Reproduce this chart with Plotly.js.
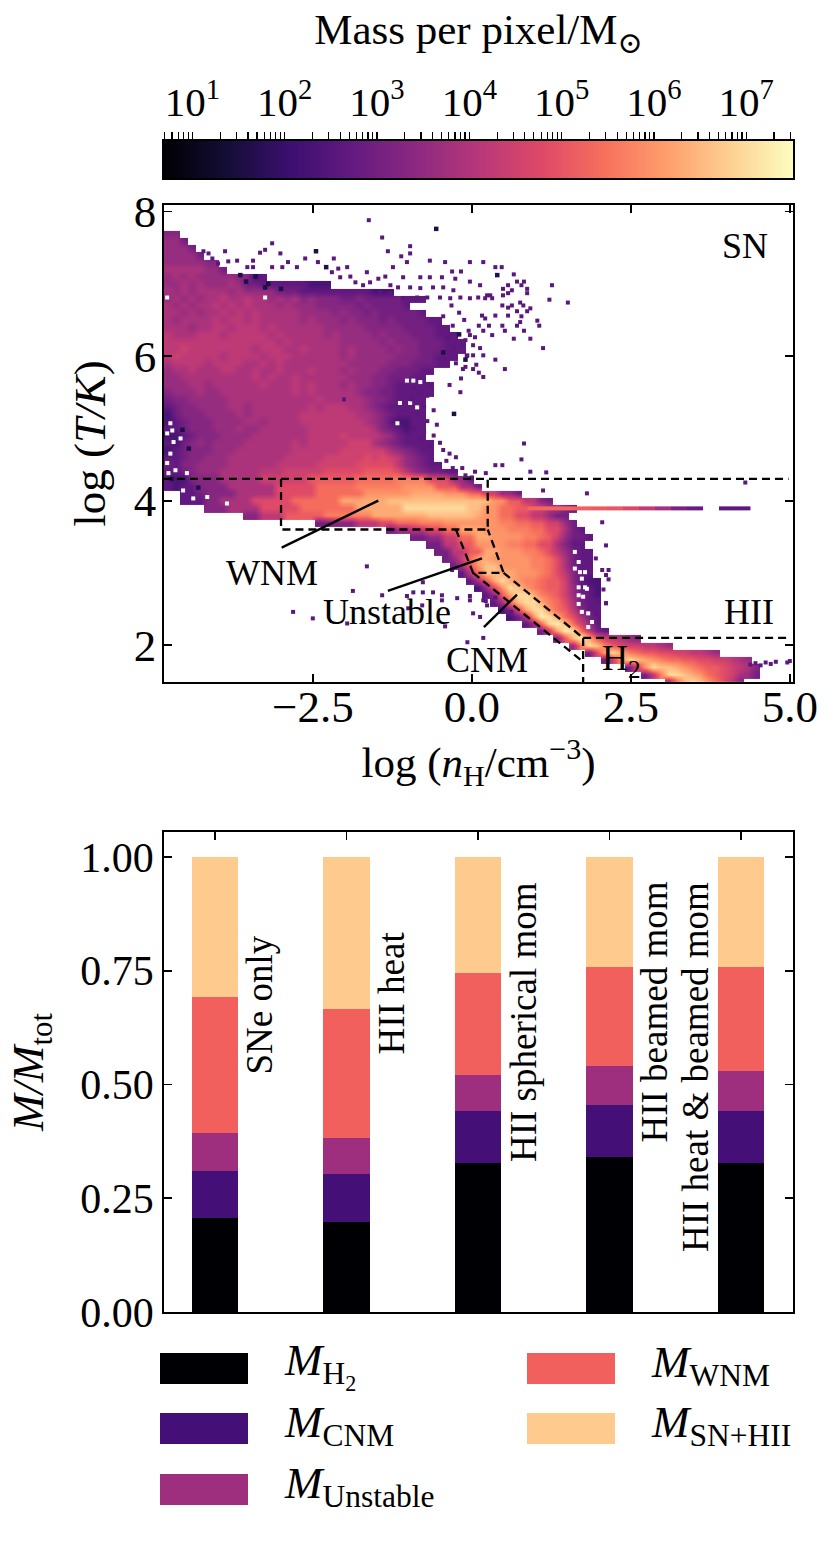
<!DOCTYPE html>
<html><head><meta charset="utf-8">
<script src="https://cdn.plot.ly/plotly-3.0.1.min.js"></script>
<style>html,body{margin:0;padding:0;background:#fff}</style></head>
<body><div id="chart" style="width:831px;height:1547px"></div>
<script>
// ---- bar panel data ----
const runs = ["SNe only","HII heat","HII spherical mom","HII beamed mom","HII heat & beamed mom"];
const massH2 = [0.206,0.197,0.327,0.340,0.327];
const massCNM = [0.105,0.106,0.114,0.114,0.114];
const massUnstable = [0.082,0.079,0.081,0.086,0.088];
const massWNM = [0.299,0.284,0.223,0.218,0.229];
const massHot = [0.308,0.334,0.255,0.242,0.242];
const barColors = ["#000004","#440f76","#9e2f7f","#f1605d","#feca8d"];
const barNames = ["<i>M</i><sub>H<sub>2</sub></sub>","<i>M</i><sub>CNM</sub>","<i>M</i><sub>Unstable</sub>","<i>M</i><sub>WNM</sub>","<i>M</i><sub>SN+HII</sub>"];

// ---- phase diagram data: rows from log T = 8.0 downward in 0.1 steps
// token "x3" = level x for 3 cells, "~abc" = one cell per character
const levelChars = "0123456789abcdefgh";
const levelValues = [1.8,2.3,2.7,3.0,3.3,3.6,3.9,4.2,4.5,4.8,5.1,5.4,5.7,6.0,6.3,6.6,7.0,7.3];
const phaseRows = [
"","","",
"42",
"52 31",
"53 31",
"54 31",
"55 42",
"65 52 31",
"~565655 53 42 11 21",
"~5565655565 32 23 23 13",
"~6565666656 54 33 23 23 23 13",
"~565656676676656564544433433333 23",
"~6565667676766656555444443433332",
"~665656676767666665555454434333332",
"~65666676776766666565554544434333322",
"~666566776777676666665555544444333322",
"~7666777677777676666656555545444333222",
"~77777777777777676666665555545444333222",
"~77877777777677766766665655554544333222",
"~7877777677776777666666565555544433222",
"~677776777766767666666665555544433322",
"~5667666776676676667666565554433322",
"~556666666667676676666665554433322",
"~55566566666676667676665655443222 22",
"~4555655666666666767666665443322 23",
"~3445555566666666666766666544322 22",
"~2344555566566666667677766543222 22",
"~134445555656666667777777665432 23",
"~1234445555665666677777777654211 22",
"~2234445556556666667777777764321 22",
"~1123444555566666667777877776532 22",
"~213454555566666676777778886543222 21",
"~1234445556666666777777888888654322",
"~2234455566666667777788888989875432",
"~32445555666666777778888899999754322",
"~2234555666667778888899999aaaa97543322",
"21 12 44 65 86 a6 b5 c4 93 52 21",
"21 11 22 44 66 95 b5 c6 d4 a3 62 31",
".2 21 21 31 44 65 95 b6 d6 e4 d3 b2 82 52 31",
".2 21 21 21 42 64 95 b6 e6 f5 f8 d2 a2 72 41 31",
".5 43 64 95 b7 e6 g4 g4 f2 d2 b2 a2 82 62 41 31",
".10 42 73 a5 c6 e7 f6 e1 d2 b2 92 72 51 32",
".19 32 43 73 92 b3 c3 d5 d2 c2 b2 a2 82 51 31",
".28 31 52 72 92 b2 e3 d3 c3 b2 92 61 31 21",
".31 32 52 82 b2 e2 d4 c2 b1 a1 81 51 32 21",
".33 32 72 a2 d2 d2 c2 b2 92 61 41 21 21",
".34 32 72 a2 e2 d3 c2 b1 91 71 51 31 21 21",
".35 31 51 81 b1 e2 d5 c2 b1 91 61 31 22",
".36 31 61 a1 d1 f2 d4 c2 b1 91 61 31 21 21",
".37 21 71 b1 f2 e2 d3 c1 b1 91 71 41 21 21",
".38 21 61 a1 e1 g1 e1 d1 c2 b1 a2 81 41 21 12",
".39 11 51 91 d1 g1 f1 d1 c1 b1 a2 81 51 22 11",
".40 21 51 a1 e1 g1 g1 e1 c1 b1 a1 81 51 31 21 11",
".41 21 61 b1 f1 g1 g1 e1 c1 b1 91 61 31 22",
".42 11 41 91 e1 g1 g1 d1 b1 a1 71 41 22",
".43 11 31 71 d1 h1 g1 e1 b1 91 61 31 21",
".45 21 51 b1 g1 h1 f1 b1 81 51 21",
".47 31 81 e1 h1 g1 b1 71 31 21",
".49 41 a1 f1 h1 e1 a1 81 71 61 51 41",
".51 51 c1 g1 f1 c1 a1 91 81 81 71 71 61 51",
".53 31 91 e1 g1 e1 c1 b1 a1 a1 91 91 81 81 71 71 61 51",
".55 31 81 d1 g1 f1 e1 d1 c1 b2 a2 92 82 71 61 51",
".58 31 81 d1 g1 f1 f1 e1 d1 c1 b1 a2 91 81 71 61 41",
".60 31 71 c1 g2 f1 e1 d1 b1 a1 91 81 61 51 31",
".63 51 b1 f1 g1 f1 d1 b1 91 71 41"
];
// narrow streak at log T = 3.9
const streakX = [1.0,1.25,1.5,1.75,2.0,2.25,2.5,2.75,3.0,3.25,3.5,3.75,4.0,4.25];
const streakZ = [5.3,5.3,5.3,5.2,5.1,5.0,4.7,4.3,3.8,3.1,2.8,null,2.6,2.6];
// isolated cells
const strayX = [-1.62,-1.41,-0.97,-3.14,-3.88,-4.22,-4.14,-3.33,-3.01,-3.25,-1.32,-1.11,-0.97,-4.08,-3.69,-3.83,-3.99,-3.44,-2.62,-2.42,-2.17,-2.89,-2.98,-2.75,-3.14,-3.44,-3.53,-0.42,-1.02,-0.03,0.18,-1.24,-0.66,-1.65,-1.96,-2.1,-2.2,-0.31,-0.17,-1.36,-1.08,-0.81,-0.66,-0.47,-0.26,-1.91,-2.07,-1.47,-1.6,-1.28,-1.71,-1.83,-1.16,-1.44,-1.28,-0.97,-0.81,-0.61,-0.45,-0.29,-0.03,0.13,0.24,0.1,-0.03,-0.18,-0.34,-0.5,-0.7,-0.86,-1.08,0.37,0.47,0.66,0.82,0.71,0.57,0.78,1.26,0.87,0.63,0.49,0.87,0.49,0.57,0.29,0.21,0.32,1.22,1.51,0.76,0.81,0.48,0.57,0.63,0.92,0.71,0.87,0.57,0.37,0.78,0.16,0.21,1.03,1.06,0.48,0.71,0.76,0.27,0.11,0.82,0.52,0.32,0.18,0.66,0.92,1.12,0.05,-0.03,-0.1,0.02,0.13,-0.07,0.02,0.18,0.37,0.07,0.52,-0.14,0.02,0.11,0.18,-0.17,-0.32,-0.2,-0.45,-0.12,-0.3,-0.05,-0.22,-0.38,-0.15,-0.28,-0.08,-0.42,-0.25,-0.1,-0.35,-0.18,-2.01,-1.65,-1.87,-1.41,-1.02,-0.92,-0.77,-0.61,-0.47,-0.77,-0.31,-0.23,-0.03,0.18,-0.47,-0.78,-1.71,-1.96,-2.81,-2.5,-0.42,-0.07,0.18,0.62,0.82,0.78,1.17,0.22,0.37,0.48,0.92,1.12,1.81,2.05,2.11,1.95,2.05,2.15,2.11,2.15,2.07,1.99,2.11,2.11,1.95,0.02,-0.03,0.22,0.37,0.24,0.13,-1.0,-0.9,-0.8,-0.7,-0.65,-0.95,-0.75,-0.6,-0.85,-0.7,-0.55,-0.9,-0.75,-0.6,-0.8,-0.65,-0.45,-0.5,-0.35,-0.25,-0.4,-0.15,-0.3,-0.1,0.0,0.05,4.3,4.38,4.46,4.54,4.62,4.7,4.78,4.96,5.0];
const strayY = [7.88,7.64,7.52,7.56,7.45,7.45,7.42,7.43,7.42,7.47,7.45,7.38,7.42,7.35,7.32,7.31,7.28,7.32,7.35,7.3,7.35,7.3,7.23,7.23,7.23,7.23,7.23,7.3,7.3,7.3,7.3,7.23,7.32,7.16,7.23,7.21,7.16,7.17,7.17,7.1,7.09,7.09,7.09,7.09,7.07,7.1,7.09,7.07,7.02,6.98,6.98,7.02,6.95,6.88,6.87,6.95,6.94,6.95,6.95,6.91,7.03,6.98,6.84,6.81,6.8,6.81,6.8,6.81,6.81,6.81,6.8,7.23,7.23,7.13,7.03,7.03,6.98,6.98,6.98,6.93,6.91,6.93,6.87,6.84,6.87,6.84,6.8,6.8,6.78,6.74,6.74,6.7,6.7,6.67,6.7,6.66,6.62,6.62,6.56,6.56,6.55,6.56,6.52,6.49,6.42,6.42,6.42,6.47,6.42,6.42,6.35,6.35,6.29,6.35,6.24,6.24,6.11,6.26,6.29,6.22,6.15,6.11,6.01,6.01,6.01,5.95,5.88,5.82,5.82,5.82,5.77,5.71,5.69,6.7,6.6,6.55,6.5,6.42,6.35,6.3,6.25,6.15,6.1,6.0,5.95,5.9,5.85,5.6,5.5,5.4,3.09,2.75,2.69,2.68,2.73,2.73,2.73,2.69,2.87,3.04,2.65,2.62,2.62,2.62,2.55,2.32,2.3,2.46,2.37,2.26,2.04,2.1,2.46,4.79,4.57,4.39,4.38,4.49,4.49,4.4,4.14,4.1,3.7,3.38,3.2,3.04,3.04,2.97,2.91,2.77,2.61,2.58,2.58,2.44,2.44,2.68,2.61,2.66,2.55,2.39,2.51,5.55,5.5,5.45,5.6,5.4,5.3,5.25,5.2,5.1,5.05,5.0,4.95,4.9,4.85,4.75,4.7,4.8,4.65,4.6,4.55,4.45,4.45,4.35,4.32,4.4,4.25,1.73,1.75,1.72,1.76,1.74,1.77,1.76,1.78,1.78];
const darkX = [-0.56,-2.45,-3.64,-3.4,-3.55,-3.2,-3.25,-3.0,0.4,-2.29,-4.55,-4.45,-4.3,-4.72,-0.45,-0.2,-0.1,-0.28];
const darkY = [7.76,7.45,7.12,7.1,7.03,7.0,6.95,6.93,7.12,7.23,4.98,4.72,4.18,4.3,6.05,6.3,5.95,5.2];
// empty cells inside the filled area
const holeX = [1.62,1.68,1.62,1.78,1.70,1.73,1.68,1.78,1.68,1.75,1.81,1.68,1.73,1.83,1.89,1.83,-4.74,-4.79,-4.71,-4.58,-4.69,-4.74,-4.79,-4.66,-4.48,-4.77,-4.54,-4.16,-4.38,-3.85,-1.02,-0.92,-0.81,-1.13,-0.97,-0.86,-1.17,-3.25,-4.79];
const holeY = [3.29,3.15,3.06,3.01,3.01,2.92,2.80,2.80,2.69,2.67,2.78,2.57,2.46,2.44,2.32,2.25,5.07,4.93,4.97,4.86,4.81,4.65,4.52,4.42,4.38,4.38,4.14,4.05,4.03,3.96,5.66,5.66,5.64,5.35,5.35,5.29,5.07,6.81,6.81];

// ---- region outlines (log n, log T) ----
const hotLineX = [-4.84,4.98], hotLineY = [4.3,4.3];
const wnmBoxX = [-3.0,-3.0,0.25,0.25], wnmBoxY = [4.3,3.6,3.6,4.3];
const unstableX = [-0.25,0.02,0.5,0.25], unstableY = [3.6,3.0,3.0,3.6];
const cnmLowX = [0.02,1.72], cnmLowY = [3.0,1.79];
const cnmUpX = [0.5,1.75], cnmUpY = [3.0,2.1];
const h2VertX = [1.75,1.75], h2VertY = [2.1,1.49];
const hiiLineX = [1.75,4.98], hiiLineY = [2.1,2.1];
const pointerWNM = [[-2.99,-1.47],[3.35,4.0]];
const pointerUnstable = [[-1.32,0.16],[2.75,3.2]];
const pointerCNM = [[0.19,0.71],[2.25,2.7]];

// ---- colour bar ----
const cbarLevels = [0.692,1,1.5,2,2.5,3,3.5,4,4.5,5,5.5,6,6.5,7,7.507];
const cbarTicks = [1,2,3,4,5,6,7];
const cbarTickText = ["10<sup>1</sup>","10<sup>2</sup>","10<sup>3</sup>","10<sup>4</sup>","10<sup>5</sup>","10<sup>6</sup>","10<sup>7</sup>"];
const magma = [[0,"#000004"],[0.1,"#140e36"],[0.2,"#3b0f70"],[0.3,"#641a80"],[0.4,"#8c2981"],[0.5,"#b73779"],[0.6,"#de4968"],[0.7,"#f7705c"],[0.8,"#fe9f6d"],[0.9,"#fecf92"],[1,"#fcfdbf"]];
const zMin = 0.692, zMax = 7.507;

const W = 831, H = 1547;
const FONT = "Liberation Serif, DejaVu Serif, serif";
const px = v => v / W, py = v => 1 - v / H;

// decode the rows
const charValue = {};
levelChars.split("").forEach((c,i)=>{charValue[c]=levelValues[i];});
const phaseZ = phaseRows.map(r=>{
  const out = new Array(79).fill(null);
  let c = 0;
  r.split(" ").filter(Boolean).forEach(tok=>{
    if(tok[0]==="~"){ tok.slice(1).split("").forEach(ch=>{ if(c<79) out[c++]=charValue[ch]; }); return; }
    const n = parseInt(tok.slice(1),10), v = tok[0]==="." ? null : charValue[tok[0]];
    for(let i=0;i<n && c<79;i++,c++) out[c]=v;
  });
  return out;
}).reverse();

const dashLine = (x,y)=>({x,y,xaxis:"x",yaxis:"y",mode:"lines",hoverinfo:"skip",showlegend:false,line:{color:"#000",width:2.3,dash:"8px,5px"}});
const solidLine = p=>({x:p[0],y:p[1],xaxis:"x",yaxis:"y",mode:"lines",hoverinfo:"skip",showlegend:false,line:{color:"#000",width:2.4}});
const cellMarks = (x,y,color,size)=>({type:"scatter",mode:"markers",x,y,xaxis:"x",yaxis:"y",hoverinfo:"skip",showlegend:false,marker:{symbol:"square",size,color,line:{width:0}}});

const traces = [
 {type:"heatmap",z:[cbarLevels,cbarLevels],x:cbarLevels,y:[0,1],xaxis:"x3",yaxis:"y3",zsmooth:"best",colorscale:magma,zmin:zMin,zmax:zMax,showscale:false,hoverinfo:"skip"},
 {type:"heatmap",z:phaseZ,x0:-4.78,dx:0.125,y0:1.5,dy:0.1,xaxis:"x",yaxis:"y",zsmooth:"best",colorscale:magma,zmin:zMin,zmax:zMax,showscale:false,hoverinfo:"skip"},
 {type:"heatmap",z:[streakZ],x:streakX,y0:3.895,dy:0.05,xaxis:"x",yaxis:"y",colorscale:magma,zmin:zMin,zmax:zMax,showscale:false,hoverinfo:"skip"},
 cellMarks(holeX,holeY,"#fff",4),
 cellMarks(strayX,strayY,"#5c177d",4),
 cellMarks(darkX,darkY,"#1d1147",4.5),
 dashLine(hotLineX,hotLineY),dashLine(wnmBoxX,wnmBoxY),dashLine(unstableX,unstableY),dashLine(cnmLowX,cnmLowY),dashLine(cnmUpX,cnmUpY),dashLine(h2VertX,h2VertY),dashLine(hiiLineX,hiiLineY),
 solidLine(pointerWNM),solidLine(pointerUnstable),solidLine(pointerCNM)
];
[massH2,massCNM,massUnstable,massWNM,massHot].forEach((vals,i)=>{
  traces.push({type:"bar",x:[0,1,2,3,4],y:vals,width:0.352,xaxis:"x2",yaxis:"y2",name:barNames[i],showlegend:false,hoverinfo:"skip",marker:{color:barColors[i],line:{width:0}}});
});

const tickFont = s=>({family:FONT,size:s,color:"#000"});
const axisBase = {showline:true,linecolor:"#000",linewidth:1.8,mirror:"allticks",ticks:"inside",ticklen:8,tickwidth:1.8,tickcolor:"#000",showgrid:false,zeroline:false,tickfont:tickFont(45)};
const titleFont = s=>({family:FONT,size:s,color:"#000"});

const regionLabels = [
 ["WNM",-3.14,3.0],["Unstable",-1.33,2.46],["CNM",0.24,1.8],["H<sub>2</sub>",2.36,1.79],["HII",4.36,2.46],["SN",4.3,7.52]
].map(a=>({text:a[0],x:a[1],y:a[2],xref:"x",yref:"y",showarrow:false,xanchor:"center",yanchor:"middle",font:{family:FONT,size:36,color:"#000"}}));

const runLabelPos = [[259,934],[391,930],[523,880],[654,880],[695,880]];
const runLabels = runs.map((t,i)=>({text:t,xref:"paper",yref:"paper",x:px(runLabelPos[i][0]),y:py(runLabelPos[i][1]),xanchor:"center",yanchor:"top",textangle:-90,showarrow:false,font:{family:FONT,size:37,color:"#000"}}));

const legendPos = [[160,1353],[160,1413],[160,1474],[527,1353],[527,1413]];
const legendShapes = legendPos.map((p,i)=>({type:"rect",xref:"paper",yref:"paper",x0:px(p[0]),x1:px(p[0]+88),y0:py(p[1]),y1:py(p[1]+31),fillcolor:barColors[i],line:{width:0}}));
const legendLabels = legendPos.map((p,i)=>({text:barNames[i],xref:"paper",yref:"paper",x:px(p[0]+122),y:py(p[1]+12),xanchor:"left",yanchor:"middle",showarrow:false,font:{family:FONT,size:45,color:"#000"}}));

const minorVals = [];
for(let n=0;n<8;n++){[2,3,4,5,6,7,8,9].forEach(k=>{const v=n+Math.log10(k); if(v>zMin&&v<zMax) minorVals.push(v);});}

const layout = {
 width:W,height:H,margin:{l:0,r:0,t:0,b:0},paper_bgcolor:"#fff",plot_bgcolor:"#fff",showlegend:false,barmode:"stack",
 font:{family:FONT,color:"#000"},
 xaxis:Object.assign({},axisBase,{domain:[px(164),px(793)],range:[-4.84,5.05],tickvals:[-2.5,0,2.5,5],tickformat:".1f",ticklabelstandoff:-16,anchor:"y",title:{text:"log (<i>n</i><sub>H</sub>/cm<sup>−3</sup>)",font:titleFont(43),standoff:12}}),
 yaxis:Object.assign({},axisBase,{domain:[py(682),py(205)],range:[1.49,8.09],tickvals:[2,4,6,8],ticklabelstandoff:-3,anchor:"x",title:{text:"log (<i>T/K</i>)",font:titleFont(45),standoff:14}}),
 xaxis2:Object.assign({},axisBase,{domain:[px(164),px(793)],range:[-0.388,4.395],tickvals:[0,1,2,3,4],showticklabels:false,anchor:"y2"}),
 yaxis2:Object.assign({},axisBase,{tickfont:tickFont(42),domain:[py(1312),py(832)],range:[0,1.055],tickvals:[0,0.25,0.5,0.75,1],tickformat:".2f",anchor:"x2",title:{text:"<i>M/M</i><sub>tot</sub>",font:titleFont(44),standoff:23}}),
 xaxis3:Object.assign({},axisBase,{tickfont:tickFont(41),domain:[px(164),px(793)],range:[zMin,zMax],side:"top",ticks:"outside",ticklen:7,tickwidth:1.2,mirror:true,tickvals:cbarTicks,ticktext:cbarTickText,minor:{tickmode:"array",tickvals:minorVals,ticks:"outside",ticklen:7,tickwidth:1.2,tickcolor:"#000"},anchor:"y3",title:{text:"Mass per pixel/M<sub>⊙</sub>",font:titleFont(43),standoff:14}}),
 yaxis3:Object.assign({},axisBase,{domain:[py(178),py(141)],range:[0,1],ticks:"",showticklabels:false,mirror:true,anchor:"x3"}),
 annotations:regionLabels.concat(runLabels,legendLabels),
 shapes:legendShapes
};
Plotly.newPlot("chart",traces,layout,{staticPlot:true,displayModeBar:false});
</script></body></html>
